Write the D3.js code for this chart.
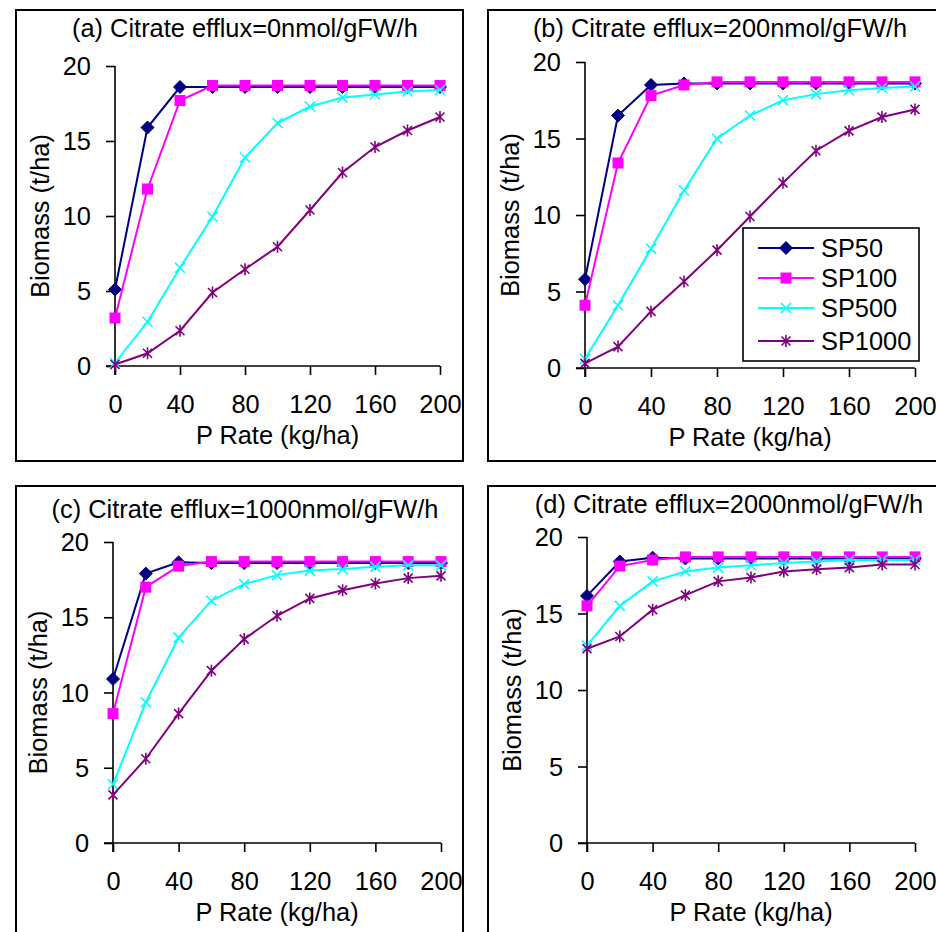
<!DOCTYPE html>
<html>
<head>
<meta charset="utf-8">
<script src="https://cdn.jsdelivr.net/npm/d3@7"></script>
<style>
  html, body { margin: 0; padding: 0; background: #fff; }
  svg { display: block; }
  text { font-family: "Liberation Sans", Arial, sans-serif; fill: #000; }
</style>
</head>
<body>
<svg id="chart" width="936" height="932"></svg>
<script>
// ---------------- DATA ----------------
const xValues = [0, 20, 40, 60, 80, 100, 120, 140, 160, 180, 200];
const seriesNames = ["SP50", "SP100", "SP500", "SP1000"];
const xTicks = [0, 40, 80, 120, 160, 200];
const yTicks = [0, 5, 10, 15, 20];
const panelTitles = [
  "(a) Citrate efflux=0nmol/gFW/h",
  "(b) Citrate efflux=200nmol/gFW/h",
  "(c) Citrate efflux=1000nmol/gFW/h",
  "(d) Citrate efflux=2000nmol/gFW/h"
];
const xAxisTitle = "P Rate (kg/ha)";
const yAxisTitle = "Biomass (t/ha)";

// (a) efflux 0
const a_SP50   = [5.1, 15.9, 18.6, 18.6, 18.6, 18.6, 18.6, 18.6, 18.6, 18.6, 18.6];
const a_SP100  = [3.2, 11.8, 17.7, 18.7, 18.7, 18.7, 18.7, 18.7, 18.7, 18.7, 18.7];
const a_SP500  = [0.2, 2.95, 6.55, 9.95, 13.9, 16.2, 17.3, 17.9, 18.1, 18.3, 18.4];
const a_SP1000 = [0.1, 0.85, 2.35, 4.9, 6.45, 7.95, 10.4, 12.9, 14.6, 15.7, 16.6];
// (b) efflux 200
const b_SP50   = [5.8, 16.5, 18.5, 18.6, 18.6, 18.6, 18.6, 18.6, 18.6, 18.6, 18.6];
const b_SP100  = [4.1, 13.4, 17.8, 18.5, 18.7, 18.7, 18.7, 18.7, 18.7, 18.7, 18.7];
const b_SP500  = [0.6, 4.1, 7.8, 11.6, 15.0, 16.5, 17.5, 17.9, 18.15, 18.3, 18.4];
const b_SP1000 = [0.3, 1.4, 3.7, 5.65, 7.7, 9.9, 12.1, 14.2, 15.5, 16.4, 16.9];
// (c) efflux 1000
const c_SP50   = [10.9, 17.9, 18.65, 18.6, 18.6, 18.6, 18.6, 18.6, 18.6, 18.6, 18.6];
const c_SP100  = [8.6, 17.0, 18.4, 18.7, 18.7, 18.7, 18.7, 18.7, 18.7, 18.7, 18.7];
const c_SP500  = [3.9, 9.35, 13.65, 16.1, 17.2, 17.8, 18.1, 18.2, 18.35, 18.45, 18.45];
const c_SP1000 = [3.2, 5.6, 8.6, 11.45, 13.55, 15.1, 16.25, 16.8, 17.24, 17.6, 17.75];
// (d) efflux 2000
const d_SP50   = [16.15, 18.4, 18.65, 18.6, 18.6, 18.6, 18.6, 18.6, 18.6, 18.6, 18.6];
const d_SP100  = [15.5, 18.1, 18.5, 18.7, 18.7, 18.7, 18.7, 18.7, 18.7, 18.7, 18.7];
const d_SP500  = [12.9, 15.5, 17.1, 17.75, 18.0, 18.15, 18.3, 18.4, 18.5, 18.5, 18.5];
const d_SP1000 = [12.7, 13.5, 15.25, 16.2, 17.1, 17.35, 17.75, 17.9, 18.0, 18.2, 18.2];

const panelData = [
  [a_SP50, a_SP100, a_SP500, a_SP1000],
  [b_SP50, b_SP100, b_SP500, b_SP1000],
  [c_SP50, c_SP100, c_SP500, c_SP1000],
  [d_SP50, d_SP100, d_SP500, d_SP1000]
];

// ---------------- STYLE / LAYOUT ----------------
const seriesColors = ["#000080", "#FF00FF", "#00FFFF", "#800080"];
const seriesMarkers = ["diamond", "square", "x", "star"];
const FONT = 25.4;

const layouts = [
  { frame: [16, 10, 447, 451], left: 115, right: 440, top: 66, bottom: 366, titleX: 245, titleY: 37 },
  { frame: [488, 10, 470, 451], left: 585, right: 915, top: 62, bottom: 368, titleX: 720, titleY: 37 },
  { frame: [16, 486, 447, 470], left: 113, right: 441, top: 542, bottom: 843, titleX: 245, titleY: 518 },
  { frame: [488, 486, 470, 470], left: 587, right: 915, top: 537, bottom: 843, titleX: 729, titleY: 513 }
];

const svg = d3.select("#chart");

function drawMarker(g, type, color) {
  if (type === "diamond") {
    g.append("path").attr("d", "M0,-6.5L6.5,0L0,6.5L-6.5,0Z").attr("fill", color).attr("stroke", color).attr("stroke-width", 1);
  } else if (type === "square") {
    g.append("rect").attr("x", -5.5).attr("y", -5.5).attr("width", 11).attr("height", 11).attr("fill", color);
  } else if (type === "x") {
    g.append("path").attr("d", "M-5,-5L5,5M-5,5L5,-5").attr("stroke", color).attr("stroke-width", 1.6).attr("fill", "none");
  } else if (type === "star") {
    g.append("path").attr("d", "M-4.5,-4.5L4.5,4.5M-4.5,4.5L4.5,-4.5M0,-6L0,6").attr("stroke", color).attr("stroke-width", 1.6).attr("fill", "none");
  }
}

layouts.forEach((L, pi) => {
  const g = svg.append("g");
  // frame
  g.append("rect")
    .attr("x", L.frame[0]).attr("y", L.frame[1])
    .attr("width", L.frame[2]).attr("height", L.frame[3])
    .attr("fill", "none").attr("stroke", "#000").attr("stroke-width", 2);

  const x = d3.scaleLinear().domain([0, 200]).range([L.left, L.right]);
  const y = d3.scaleLinear().domain([0, 20]).range([L.bottom, L.top]);

  // axes
  const xAxis = d3.axisBottom(x).tickValues(xTicks).tickSize(9).tickPadding(14).tickFormat(d3.format("d"));
  const yAxis = d3.axisLeft(y).tickValues(yTicks).tickSize(9).tickPadding(15).tickFormat(d3.format("d"));

  const gx = g.append("g").attr("transform", `translate(0,${L.bottom})`).call(xAxis);
  const gy = g.append("g").attr("transform", `translate(${L.left},0)`).call(yAxis);
  [gx, gy].forEach(ax => {
    ax.select(".domain").attr("stroke", "#000").attr("stroke-width", 1.6);
    ax.selectAll(".tick line").attr("stroke", "#000").attr("stroke-width", 1.6);
    ax.selectAll(".tick text").attr("font-size", FONT).attr("font-family", "Liberation Sans, Arial, sans-serif").attr("fill", "#000");
  });
  gx.select(".domain").attr("d", `M${L.left - 9},0H${L.right}`);
  gy.select(".domain").attr("d", `M0,${L.top}V${L.bottom + 9}`);
  gx.selectAll(".tick text").attr("dy", "0").attr("y", 47);
  gy.selectAll(".tick text").attr("dy", "0.34em");

  // title
  g.append("text").attr("x", L.titleX).attr("y", L.titleY)
    .attr("text-anchor", "middle").attr("font-size", FONT)
    .text(panelTitles[pi]);
  // x axis title
  g.append("text").attr("x", (L.left + L.right) / 2).attr("y", L.bottom + 78)
    .attr("text-anchor", "middle").attr("font-size", FONT)
    .text(xAxisTitle);
  // y axis title
  g.append("text")
    .attr("transform", `translate(${L.left - 66},${(L.top + L.bottom) / 2}) rotate(-90)`)
    .attr("text-anchor", "middle").attr("font-size", FONT)
    .text(yAxisTitle);

  // series
  const line = d3.line().x((d, i) => x(xValues[i])).y(d => y(d));
  panelData[pi].forEach((vals, si) => {
    const sg = g.append("g");
    sg.append("path").datum(vals).attr("d", line)
      .attr("fill", "none").attr("stroke", seriesColors[si]).attr("stroke-width", 2);
    vals.forEach((v, i) => {
      const mg = sg.append("g").attr("transform", `translate(${x(xValues[i])},${y(v)})`);
      drawMarker(mg, seriesMarkers[si], seriesColors[si]);
    });
  });

  // legend in panel (b)
  if (pi === 1) {
    const lg = g.append("g");
    lg.append("rect").attr("x", 743).attr("y", 228).attr("width", 176).attr("height", 133)
      .attr("fill", "#fff").attr("stroke", "#000").attr("stroke-width", 1.6);
    const rowY = [248, 278, 308, 341];
    seriesNames.forEach((name, si) => {
      lg.append("line").attr("x1", 758).attr("x2", 814).attr("y1", rowY[si]).attr("y2", rowY[si])
        .attr("stroke", seriesColors[si]).attr("stroke-width", 2);
      const mg = lg.append("g").attr("transform", `translate(786,${rowY[si]})`);
      drawMarker(mg, seriesMarkers[si], seriesColors[si]);
      lg.append("text").attr("x", 821).attr("y", rowY[si]).attr("dy", "0.36em")
        .attr("font-size", FONT).text(name);
    });
  }
});
</script>
</body>
</html>
